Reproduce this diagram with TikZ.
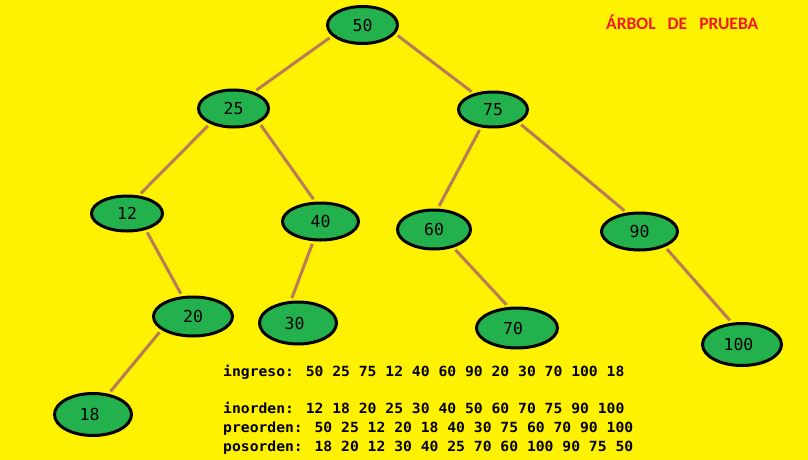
\documentclass[tikz,border=0pt]{standalone}
\usepackage{fontspec}
\setmainfont{DejaVu Sans}
\newfontfamily\monof{DejaVu Sans Mono}
\newfontfamily\monobf[FakeStretch=1.05]{DejaVu Sans Mono}
\newfontfamily\titlef{Carlito}
\usetikzlibrary{shapes.geometric}
\definecolor{fondo}{HTML}{FFF200}
\definecolor{verde}{HTML}{22B14C}
\definecolor{rama}{HTML}{B97A57}
\definecolor{rojo}{HTML}{ED1C24}
\tikzset{
  nodo/.style={ellipse, draw=black, line width=3pt, fill=verde, inner sep=0pt,
    font=\monof\fontsize{16.5}{18}\selectfont, text=black},
  ramal/.style={draw=rama, line width=3pt, shorten <=3pt, shorten >=3pt},
  linea/.style={anchor=base west, inner sep=0pt, font=\monobf\bfseries\fontsize{14}{16}\selectfont, text=black}
}
\begin{document}
\begin{tikzpicture}[x=1pt,y=-1pt]
\fill[fondo] (0,0) rectangle (808,460);
\useasboundingbox (0,0) rectangle (808,460);
% nodes
\node[nodo, minimum width=70pt, minimum height=37pt] (n50) at (362.5,25) {50};
\node[nodo, minimum width=70pt, minimum height=37pt] (n25) at (233.5,108.5) {25};
\node[nodo, minimum width=69pt, minimum height=35pt] (n75) at (493,109.5) {75};
\node[nodo, minimum width=71pt, minimum height=35pt] (n12) at (127,213.5) {12};
\node[nodo, minimum width=76pt, minimum height=37pt] (n40) at (320.5,221.5) {40};
\node[nodo, minimum width=73pt, minimum height=39pt] (n60) at (434,229.5) {60};
\node[nodo, minimum width=76pt, minimum height=37pt] (n90) at (639.5,231.5) {90};
\node[nodo, minimum width=79pt, minimum height=39pt] (n20) at (193,316.5) {20};
\node[nodo, minimum width=77pt, minimum height=42pt] (n30) at (298,323) {\hspace*{-7pt}30};
\node[nodo, minimum width=81pt, minimum height=40pt] (n70) at (517,328) {\hspace*{-8pt}70};
\node[nodo, minimum width=79pt, minimum height=42pt] (n100) at (742,344.5) {\hspace*{-7pt}100};
\node[nodo, minimum width=77pt, minimum height=42pt] (n18) at (93,414.5) {\hspace*{-7pt}18};
% edges
\draw[ramal] (n50.200) -- (n25.39);
\draw[ramal] (n50.345) -- (n75.140);
\draw[ramal] (n25.213) -- (n12.57);
\draw[ramal] (n25.331) -- (n40.105);
\draw[ramal] (n75.236) -- (n60.80);
\draw[ramal] (n75.333) -- (n90.124);
\draw[ramal] (n12.319) -- (n20.118);
\draw[ramal] (n40.250) -- (n30.108);
\draw[ramal] (n60.317) -- (n70.112);
\draw[ramal] (n90.329) -- (n100.115);
\draw[ramal] (n20.203) -- (n18.53);
% title
\node[anchor=base west, inner sep=0pt, text=rojo, font=\titlef\bfseries\fontsize{17.5}{20}\selectfont] (tit) at (606,29.5) {ÁRBOL\hspace{12pt}DE\hspace{12pt}PRUEBA};
% text lines
\node[linea] (t1) at (223,376) {ingreso: 50 25 75 12 40 60 90 20 30 70 100 18};
\node[linea] (t2) at (223,413.3) {inorden: 12 18 20 25 30 40 50 60 70 75 90 100};
\node[linea] (t3) at (223,432.3) {preorden: 50 25 12 20 18 40 30 75 60 70 90 100};
\node[linea] (t4) at (223,451) {posorden: 18 20 12 30 40 25 70 60 100 90 75 50};
\end{tikzpicture}
\end{document}
